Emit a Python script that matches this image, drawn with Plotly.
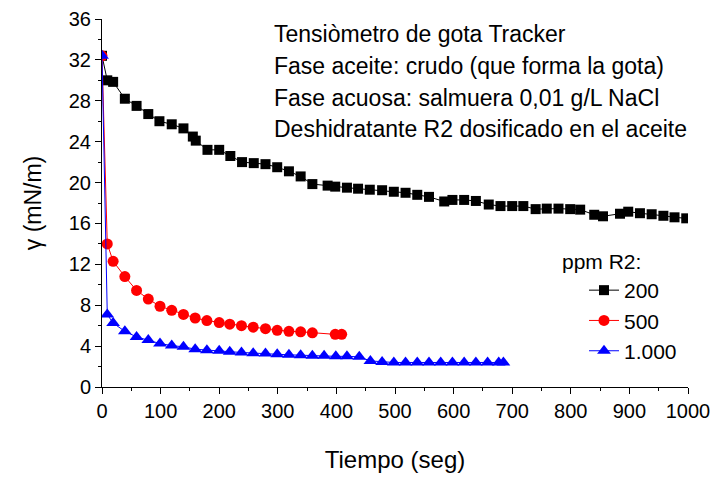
import plotly.graph_objects as go

# Series: ppm R2 = 200 (black squares)
t200 = [0, 9, 19, 39, 59, 79, 98, 119, 139, 155, 160, 180, 200, 219, 239, 259, 279, 299, 319, 339,
        359, 385, 398, 418, 437, 457, 478, 498, 518, 538, 558, 584, 598, 618, 638, 660, 680, 700,
        719, 740, 759, 779, 799, 816, 840, 855, 884, 898, 918, 938, 958, 977, 997]
g200 = [32.4, 30.0, 29.85, 28.2, 27.5, 26.7, 26.0, 25.7, 25.3, 24.5, 24.1, 23.2, 23.2, 22.6, 22.0,
        21.9, 21.8, 21.5, 21.1, 20.6, 19.85, 19.7, 19.6, 19.5, 19.4, 19.3, 19.25, 19.1, 19.0, 18.8,
        18.6, 18.15, 18.3, 18.3, 18.2, 17.85, 17.7, 17.7, 17.7, 17.4, 17.45, 17.45, 17.4, 17.35,
        16.85, 16.7, 16.95, 17.15, 17.0, 16.9, 16.75, 16.6, 16.5]

# Series: ppm R2 = 500 (red circles)
t500 = [0, 9, 19, 39, 59, 79, 99, 119, 139, 159, 179, 200, 218, 238, 258, 279, 299, 319, 339, 359,
        398, 409]
g500 = [32.4, 14.0, 12.3, 10.8, 9.45, 8.6, 7.9, 7.5, 7.1, 6.75, 6.5, 6.3, 6.15, 6.0, 5.85, 5.7,
        5.55, 5.45, 5.4, 5.3, 5.15, 5.15]

# Series: ppm R2 = 1.000 (blue triangles)
t1000 = [0, 9, 19, 39, 59, 79, 99, 119, 139, 159, 179, 200, 218, 238, 258, 279, 299, 319, 339, 359,
         379, 399, 418, 439, 458, 478, 498, 518, 538, 558, 578, 598, 618, 638, 658, 677, 685]
g1000 = [32.4, 7.1, 6.25, 5.45, 4.9, 4.6, 4.25, 4.05, 3.93, 3.7, 3.6, 3.55, 3.45, 3.38, 3.3, 3.27,
         3.2, 3.15, 3.1, 3.05, 3.05, 3.0, 3.0, 2.95, 2.55, 2.45, 2.4, 2.4, 2.4, 2.4, 2.4, 2.4, 2.4,
         2.4, 2.4, 2.4, 2.4]

names = ["200", "500", "1.000"]
legend_title = "ppm R2:"
info_lines = ["Tensiòmetro de gota Tracker",
              "Fase aceite: crudo (que forma la gota)",
              "Fase acuosa: salmuera 0,01 g/L NaCl",
              "Deshidratante R2 dosificado en el aceite"]

FONT = "Liberation Sans, Arial, sans-serif"

L, R, T, B = 102, 25, 19, 90
W, H = 713, 477
PW, PH = W - L - R, H - T - B


def px_x(p):
    return (p - L) / PW


def px_y(p):
    return (H - B - p) / PH


fig = go.Figure()
fig.add_trace(go.Scatter(x=t200, y=g200, name=names[0], mode="lines+markers",
                         line=dict(color="black", width=1),
                         marker=dict(symbol="square", size=10, color="black")))
fig.add_trace(go.Scatter(x=t500, y=g500, name=names[1], mode="lines+markers",
                         line=dict(color="red", width=1),
                         marker=dict(symbol="circle", size=11, color="red")))
fig.add_trace(go.Scatter(x=t1000, y=g1000, name=names[2], mode="lines+markers",
                         line=dict(color="blue", width=1),
                         marker=dict(symbol="triangle-up", size=12, color="blue")))

line_centers = [34, 66, 98, 129]
for txt, yc in zip(info_lines, line_centers):
    fig.add_annotation(xref="paper", yref="paper", x=px_x(272), y=px_y(yc),
                       xanchor="left", yanchor="middle", align="left", showarrow=False,
                       text=txt, font=dict(family=FONT, size=23, color="black"))

# legend title
fig.add_annotation(xref="paper", yref="paper", x=px_x(560), y=px_y(261),
                   xanchor="left", yanchor="middle", showarrow=False,
                   text=legend_title, font=dict(family=FONT, size=21, color="black"))

fig.update_layout(
    width=W, height=H,
    margin=dict(l=L, r=R, t=T, b=B),
    plot_bgcolor="white", paper_bgcolor="white",
    font=dict(family=FONT, color="black"),
    showlegend=True,
    legend=dict(x=px_x(584), y=px_y(270), xanchor="left", yanchor="top",
                font=dict(size=21, family=FONT), bgcolor="rgba(0,0,0,0)",
                tracegroupgap=0),
    xaxis=dict(range=[0, 1000], tickmode="linear", tick0=0, dtick=100, automargin=False,
               showline=True, linecolor="black", linewidth=1, ticks="outside",
               ticklen=6, tickcolor="black", showgrid=False, zeroline=False,
               tickfont=dict(size=20, family=FONT),
               minor=dict(dtick=50, ticks="outside", ticklen=3, tickcolor="black"),
               title=dict(text="Tiempo (seg)", font=dict(size=24, family=FONT), standoff=30)),
    yaxis=dict(range=[0, 36], tickmode="linear", tick0=0, dtick=4, automargin=False,
               showline=True, linecolor="black", linewidth=1, ticks="outside",
               ticklen=6, tickcolor="black", showgrid=False, zeroline=False,
               tickfont=dict(size=20, family=FONT),
               minor=dict(dtick=2, ticks="outside", ticklen=3, tickcolor="black"),
               title=dict(text="γ (mN/m)", font=dict(size=23, family=FONT), standoff=20)),
)

fig.write_html("out.html")
